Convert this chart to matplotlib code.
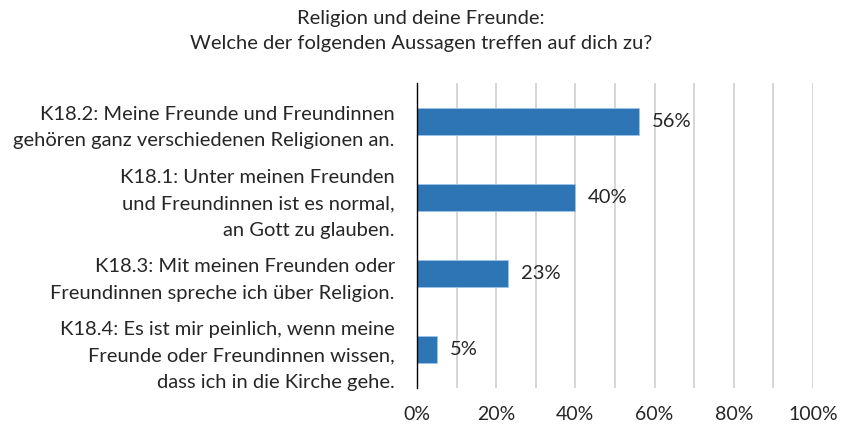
import numpy as np
import matplotlib
matplotlib.use('Agg')
import matplotlib.pyplot as plt

plt.rcParams['font.family'] = ['Lato', 'DejaVu Sans']

title = 'Religion und deine Freunde:\nWelche der folgenden Aussagen treffen auf dich zu?'
labels = [
    'K18.2: Meine Freunde und Freundinnen\ngehören ganz verschiedenen Religionen an.',
    'K18.1: Unter meinen Freunden\nund Freundinnen ist es normal,\nan Gott zu glauben.',
    'K18.3: Mit meinen Freunden oder\nFreundinnen spreche ich über Religion.',
    'K18.4: Es ist mir peinlich, wenn meine\nFreunde oder Freundinnen wissen,\ndass ich in die Kirche gehe.',
]
values = [56, 40, 23, 5]
xticks = [0, 20, 40, 60, 80, 100]
xtick_labels = ['0%', '20%', '40%', '60%', '80%', '100%']

bar_color = '#2E75B6'
txt = '#262626'

fig = plt.figure(figsize=(8.42, 4.24), dpi=100)
ax = fig.add_axes([417/842, 1-388/424, 396/842, 305/424])

pos = np.arange(len(values))
ax.barh(pos, values, height=0.355, color=bar_color, edgecolor='#9DC3E6', linewidth=0.6, zorder=3)
for p, v in zip(pos, values):
    ax.text(v + 3.2, p, f'{v}%', va='center', ha='left', fontsize=14.5, color=txt, zorder=4)

ax.set_ylim(len(values) - 0.5, -0.5)
ax.set_xlim(0, 100)
ax.set_yticks(pos)
ax.set_yticklabels(labels, fontsize=14.5, color=txt)
for t in ax.get_yticklabels():
    t.set_linespacing(1.68)
ax.set_xticks(xticks)
ax.set_xticklabels(xtick_labels, fontsize=14, color=txt)
ax.set_xticks(np.arange(10, 100, 20), minor=True)
ax.grid(axis='x', which='both', color='#D0D0D0', linewidth=1.2, zorder=0)
ax.tick_params(axis='both', which='both', length=0)
ax.tick_params(axis='y', pad=16)
ax.tick_params(axis='x', pad=13)
for s in ['top', 'right', 'bottom']:
    ax.spines[s].set_visible(False)
ax.spines['left'].set_color('black')
ax.spines['left'].set_linewidth(1.0)
ax.spines['left'].set_zorder(5)

fig.text(0.5, 1-31/424, title, ha='center', va='center', fontsize=14.5, color=txt, linespacing=1.55)

fig.savefig('out.png', dpi=100, facecolor='white')
